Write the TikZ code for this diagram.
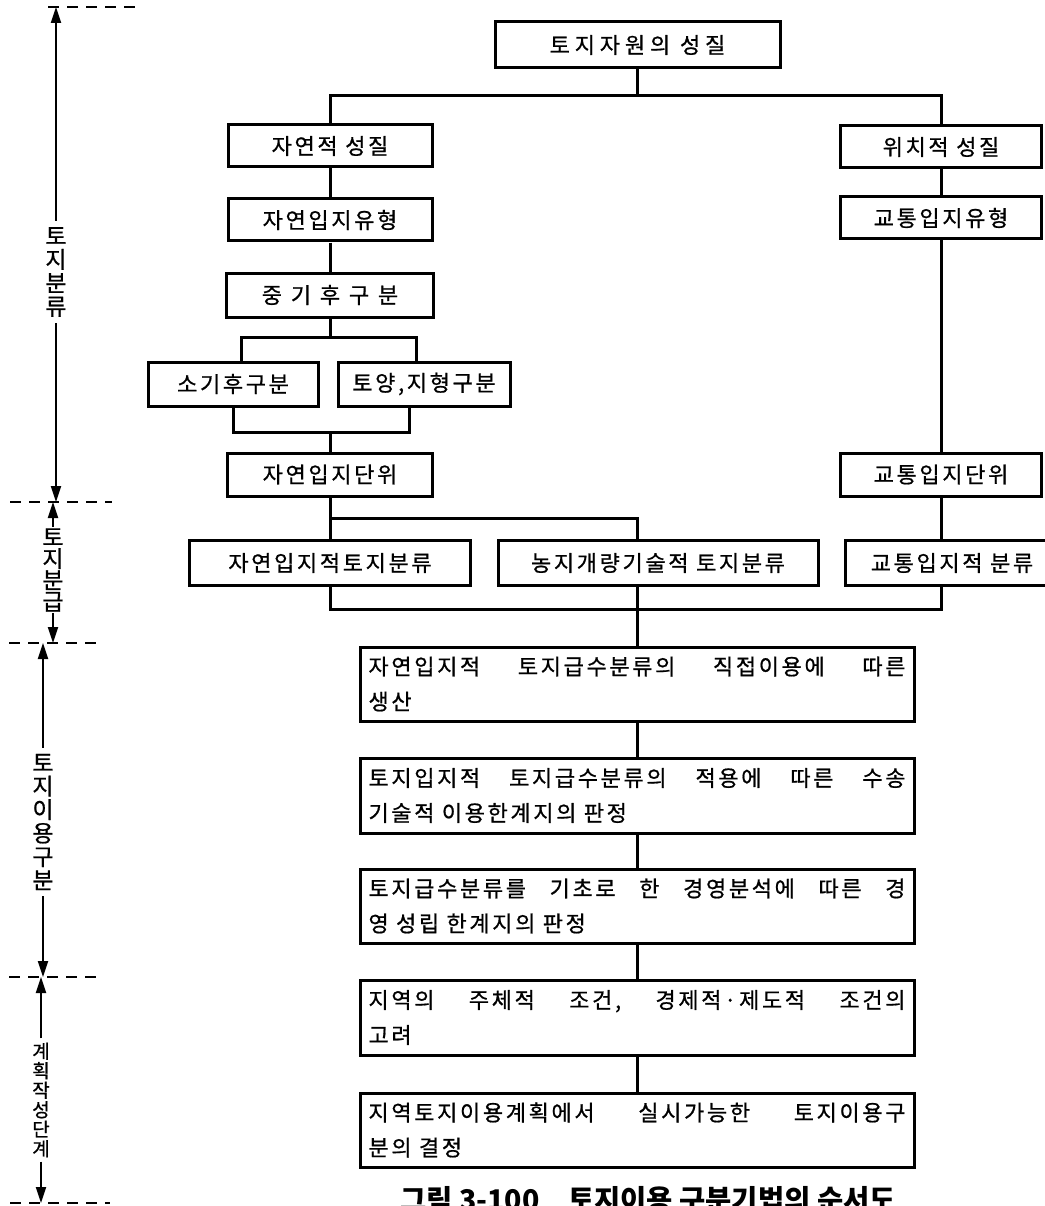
\documentclass[tikz,border=0pt]{standalone}
\usepackage{fontspec}
\setmainfont{Noto Sans CJK KR}
\newfontfamily\boxfont[LetterSpace=12, FakeBold=0.8]{Noto Sans CJK KR}
\newfontfamily\stagefont[FakeBold=0.8]{Noto Sans CJK KR}
\usepackage{tikz}
\usetikzlibrary{arrows.meta}

\tikzset{
  box/.style={draw, line width=3pt, inner sep=0pt, minimum height=43pt,
    font=\boxfont\fontsize{22}{26}\selectfont},
  stepbox/.style={box, text width=537pt, inner xsep=8.5pt, minimum height=74pt,
    align=left, font=\boxfont\fontsize{22}{35}\selectfont},
  link/.style={line width=3pt},
  stage/.style={align=center, inner xsep=0pt, inner ysep=6pt,
    font=\stagefont\fontsize{23}{23.5}\selectfont},
  axis/.style={line width=1.8pt, -{Triangle[length=16pt,width=10pt]}},
  guide/.style={line width=1.4pt, dash pattern=on 11pt off 8pt},
}
\newcommand{\fullline}[1]{\hbox to 537pt{#1}}

\begin{document}
\begin{tikzpicture}[x=1pt, y=-1pt]
\useasboundingbox (0,0) rectangle (1044,1206);

% Stage guides on the left
\draw[guide] (48,7) -- (138,7);
\draw[guide] (10,502) -- (112,502);
\draw[guide] (9,643) -- (103,643);
\draw[guide] (9,977) -- (102,977);
\draw[guide] (10,1203) -- (110,1203);

\coordinate (g1a) at (56,7);
\coordinate (g1b) at (56,502);
\coordinate (g2a) at (53,502);
\coordinate (g2b) at (53,643);
\coordinate (g3a) at (43,643);
\coordinate (g3b) at (43,977);
\coordinate (g4a) at (41,977);
\coordinate (g4b) at (41,1203);

\node[stage] (stage1) at (56,272) {토\\지\\분\\류};
\node[stage, inner ysep=1pt, font=\stagefont\fontsize{23}{21.5}\selectfont] (stage2) at (53,570) {토\\지\\분\\급};
\node[stage] (stage3) at (43,822) {토\\지\\이\\용\\구\\분};
\node[stage, inner ysep=4pt, font=\stagefont\fontsize{19}{19.5}\selectfont] (stage4) at (41,1100) {계\\획\\작\\성\\단\\계};

\foreach \s/\a/\b in {stage1/g1a/g1b, stage2/g2a/g2b, stage3/g3a/g3b, stage4/g4a/g4b} {
  \draw[axis] (\s) -- (\a);
  \draw[axis] (\s) -- (\b);
}

% Land resource properties
\node[box, minimum width=285pt, minimum height=46pt, font=\boxfont\fontsize{22}{26}\selectfont\addfontfeature{LetterSpace=22}] (root) at (637.5,45) {토지자원의 성질};

% Natural branch
\node[box, minimum width=204pt, minimum height=42pt] (nat) at (330,146) {자연적 성질};
\node[box, minimum width=204pt, minimum height=42pt] (natType) at (330,220) {자연입지유형};
\node[box, minimum width=207pt, minimum height=44pt, font=\boxfont\fontsize{22}{26}\selectfont\addfontfeature{LetterSpace=40}] (meso) at (330,295) {중기후구분};
\node[box, minimum width=170pt, minimum height=44pt] (micro) at (233,384) {소기후구분};
\node[box, minimum width=172pt, minimum height=44pt] (soil) at (424,384) {토양,지형구분};
\node[box, minimum width=205pt] (natUnit) at (330,474.5) {자연입지단위};

% Location branch
\node[box, minimum width=201pt, minimum height=42pt] (loc) at (941,147) {위치적 성질};
\node[box, minimum width=201pt, minimum height=42pt] (trType) at (941,218) {교통입지유형};
\node[box, minimum width=201pt] (trUnit) at (941,474.5) {교통입지단위};

% Classification row
\node[box, minimum width=281pt, minimum height=45pt] (natClass) at (330,563) {자연입지적토지분류};
\node[box, minimum width=320pt, minimum height=45pt] (farmClass) at (658,563) {농지개량기술적 토지분류};
\node[box, minimum width=214pt, minimum height=45pt] (trClass) at (952,563) {교통입지적 분류};

% Land use steps
\node[stepbox] (stepA) at (637,684) {\fullline{자연입지적\hfill 토지급수분류의\hfill 직접이용에\hfill 따른}\\생산};
\node[stepbox, minimum height=75pt] (stepB) at (637,795.5) {\fullline{토지입지적\hfill 토지급수분류의\hfill 적용에\hfill 따른\hfill 수송}\\기술적 이용한계지의 판정};
\node[stepbox] (stepC) at (637,906) {\fullline{토지급수분류를\hfill 기초로\hfill 한\hfill 경영분석에\hfill 따른\hfill 경}\\영 성립 한계지의 판정};
\node[stepbox, minimum height=75pt] (stepD) at (637,1017.5) {\fullline{지역의\hfill 주체적\hfill 조건,\hfill 경제적·제도적\hfill 조건의}\\고려};
\node[stepbox] (stepE) at (637,1130) {\fullline{지역토지이용계획에서\hfill 실시가능한\hfill 토지이용구}\\분의 결정};

\node[anchor=north, inner sep=0pt, font=\bfseries\fontsize{28.5}{30}\selectfont] (caption) at (648,1186) {그림 3-100\quad 토지이용 구분기법의 순서도};

% Connectors
\coordinate (split) at (637.5,96);
\draw[link] (root.south) -- (split);
\draw[link] (nat.north) |- (split) -| (loc.north);
\draw[link] (nat) -- (natType);
\draw[link] (natType) -- (meso);
\draw[link] (loc) -- (trType);
\draw[link] (trType) -- (trUnit);
\draw[link] (trUnit) -- (trUnit |- trClass.north);

\coordinate (fork) at (330,337);
\draw[link] (meso.south) -- (fork);
\draw[link] ([xshift=8pt]micro.north) |- (fork) -| ([xshift=-8pt]soil.north);
\coordinate (join) at (330,432);
\draw[link] (micro.south) |- (join) -| ([xshift=-15pt]soil.south);
\draw[link] (join) -- (natUnit.north);

\coordinate (fork2) at (330,518);
\draw[link] (natUnit) -- (natClass);
\draw[link] (fork2) -| ([xshift=-21pt]farmClass.north);

\coordinate (merge) at (637,609);
\draw[link] (natClass.south) |- (merge) -| (trUnit |- trClass.south);
\draw[link] (stepA.north |- farmClass.south) -- (stepA.north);

\foreach \a/\b in {stepA/stepB, stepB/stepC, stepC/stepD, stepD/stepE}
  \draw[link] (\a) -- (\b);

\end{tikzpicture}
\end{document}
